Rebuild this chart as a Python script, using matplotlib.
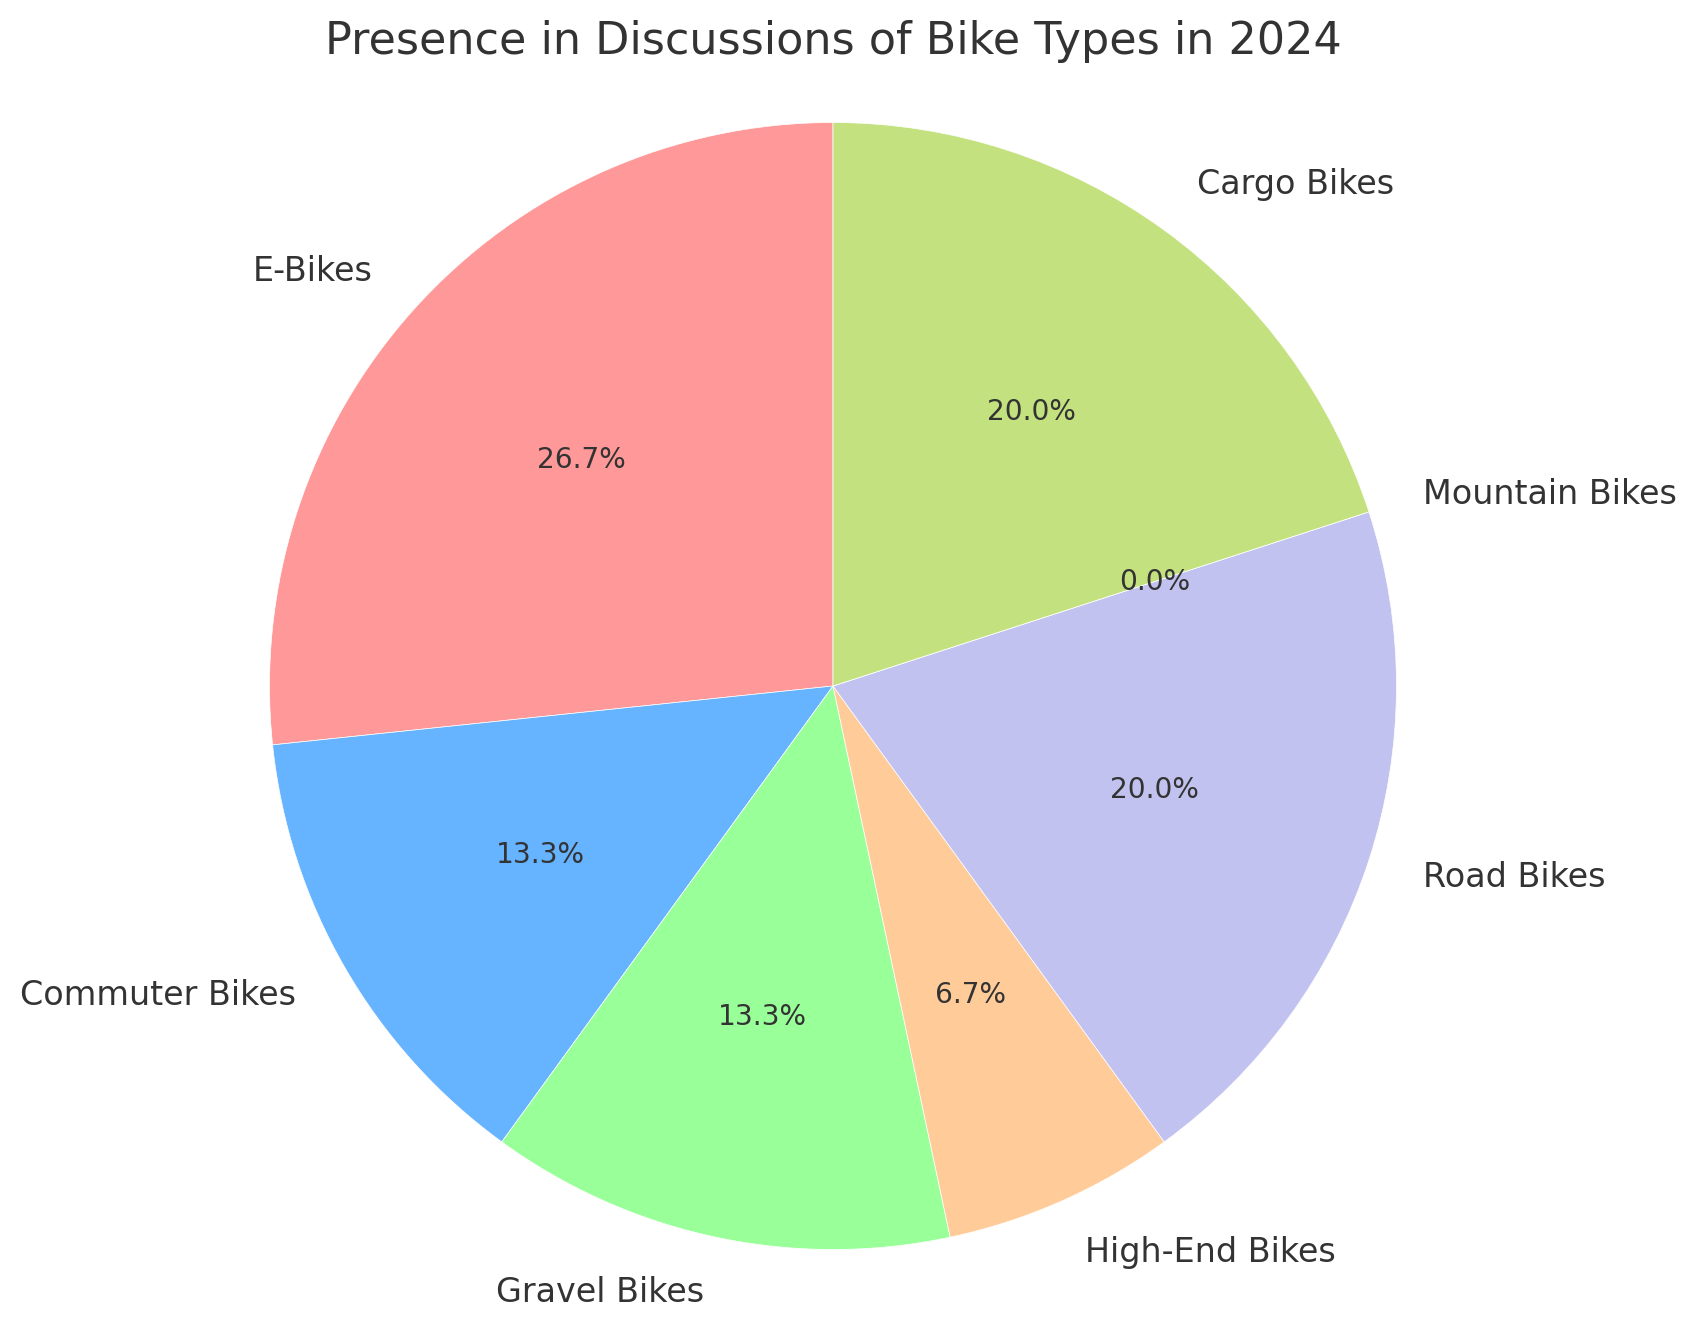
import matplotlib
matplotlib.use("Agg")
import matplotlib.pyplot as plt

plt.rcParams['font.family'] = ['DejaVu Sans']
plt.rcParams['text.color'] = '#333333'

bike_types = ["E-Bikes", "Commuter Bikes", "Gravel Bikes", "High-End Bikes",
              "Road Bikes", "Mountain Bikes", "Cargo Bikes"]
mentions = [4, 2, 2, 1, 3, 0, 3]
colors = ["#ff9999", "#66b3ff", "#99ff99", "#ffcc99", "#c2c2f0", "#ffb3e6", "#c4e17f"]

W, H, DPI = 1696, 1329, 200
fig = plt.figure(figsize=(W / DPI, H / DPI), dpi=DPI)

# pie centre and radius in pixels
cx, cy, r = 833, 686, 563.5
side = 2.5 * r
ax = fig.add_axes([(cx - side / 2) / W, (H - cy - side / 2) / H, side / W, side / H])

wedges, texts, autotexts = ax.pie(mentions, labels=bike_types, colors=colors,
                                  autopct='%1.1f%%', startangle=90,
                                  wedgeprops={'edgecolor': 'white', 'linewidth': 0.25},
                                  textprops={'fontsize': 12, 'color': '#333333'})
for t in autotexts:
    t.set_fontsize(10.1)
    t.set_color('#333333')
ax.axis('equal')
ax.set_xlim(-1.25, 1.25)
ax.set_ylim(-1.25, 1.25)

fig.text(cx / W, 1 - 54 / H, "Presence in Discussions of Bike Types in 2024",
         ha='center', va='baseline', fontsize=16, color='#333333')

fig.savefig("out.png", dpi=DPI)
